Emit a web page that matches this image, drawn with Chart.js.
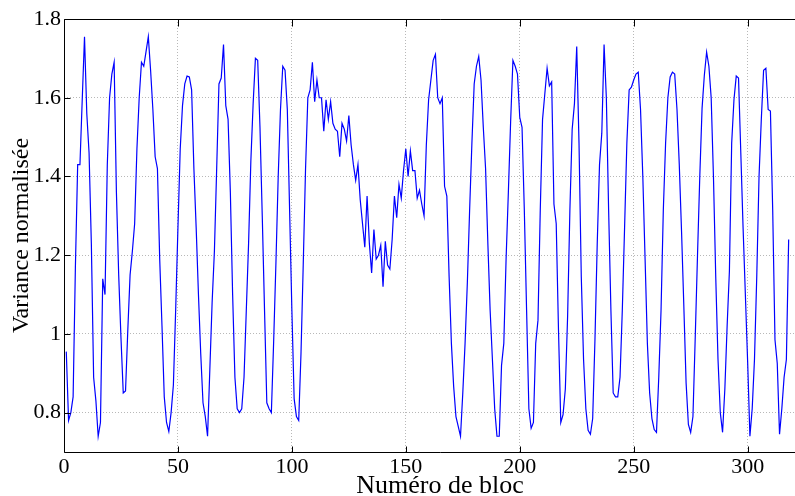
<!DOCTYPE html>
<html>
<head>
<meta charset="utf-8">
<script src="https://cdn.jsdelivr.net/npm/chart.js@4/dist/chart.umd.min.js"></script>
<style>
  html, body { margin: 0; padding: 0; background: #fff; overflow: hidden; }
</style>
</head>
<body>
<canvas id="chart" width="830" height="496"></canvas>
<script>
// variance per block (blocks 1..318)
const variance = [
  0.955, 0.78, 0.80, 0.84, 1.17, 1.43, 1.43, 1.595, 1.755, 1.56,
  1.46, 1.23, 0.89, 0.83, 0.74, 0.775, 1.14, 1.10, 1.43, 1.60,
  1.66, 1.69, 1.36, 1.15, 0.99, 0.85, 0.855, 1.01, 1.15, 1.21,
  1.28, 1.47, 1.60, 1.69, 1.68, 1.717, 1.755, 1.67, 1.57, 1.45,
  1.42, 1.19, 1.02, 0.84, 0.775, 0.752, 0.80, 0.87, 1.06, 1.27,
  1.47, 1.58, 1.635, 1.655, 1.653, 1.62, 1.42, 1.27, 1.10, 0.95,
  0.825, 0.79, 0.74, 0.91, 1.08, 1.21, 1.42, 1.635, 1.65, 1.735,
  1.58, 1.545, 1.36, 1.10, 0.89, 0.81, 0.80, 0.81, 0.89, 1.06,
  1.23, 1.44, 1.585, 1.70, 1.695, 1.525, 1.30, 1.06, 0.825, 0.81,
  0.80, 0.98, 1.18, 1.40, 1.57, 1.68, 1.67, 1.57, 1.315, 1.06,
  0.835, 0.79, 0.78, 0.95, 1.18, 1.42, 1.60, 1.62, 1.69, 1.59,
  1.645, 1.60, 1.60, 1.515, 1.595, 1.545, 1.59, 1.535, 1.52, 1.515,
  1.45, 1.535, 1.52, 1.49, 1.555, 1.48, 1.43, 1.39, 1.43, 1.34,
  1.28, 1.22, 1.35, 1.23, 1.155, 1.265, 1.19, 1.20, 1.225, 1.12,
  1.235, 1.175, 1.165, 1.24, 1.35, 1.295, 1.38, 1.345, 1.415, 1.47,
  1.40, 1.465, 1.415, 1.415, 1.345, 1.365, 1.33, 1.30, 1.48, 1.595,
  1.645, 1.695, 1.71, 1.60, 1.585, 1.60, 1.375, 1.35, 1.145, 0.976,
  0.866, 0.79, 0.765, 0.74, 0.85, 0.976, 1.13, 1.315, 1.485, 1.635,
  1.68, 1.705, 1.645, 1.525, 1.42, 1.23, 1.06, 0.935, 0.81, 0.74,
  0.74, 0.92, 0.976, 1.19, 1.36, 1.54, 1.695, 1.68, 1.66, 1.55,
  1.525, 1.315, 1.06, 0.81, 0.76, 0.775, 0.976, 1.035, 1.315, 1.545,
  1.61, 1.675, 1.63, 1.64, 1.33, 1.28, 1.01, 0.775, 0.795, 0.86,
  1.045, 1.315, 1.52, 1.585, 1.73, 1.485, 1.145, 0.935, 0.81, 0.755,
  0.745, 0.785, 0.985, 1.23, 1.43, 1.51, 1.735, 1.60, 1.315, 1.06,
  0.85, 0.84, 0.84, 0.89, 1.06, 1.27, 1.485, 1.62, 1.627, 1.645,
  1.66, 1.665, 1.57, 1.40, 1.19, 0.976, 0.85, 0.785, 0.757, 0.75,
  0.89, 1.06, 1.315, 1.485, 1.60, 1.653, 1.665, 1.66, 1.57, 1.43,
  1.26, 1.07, 0.875, 0.77, 0.75, 0.79, 0.99, 1.20, 1.40, 1.573,
  1.657, 1.716, 1.68, 1.60, 1.40, 1.145, 0.935, 0.80, 0.75, 0.86,
  1.02, 1.16, 1.485, 1.595, 1.655, 1.65, 1.46, 1.27, 1.10, 0.93,
  0.74, 0.81, 0.935, 1.145, 1.40, 1.545, 1.67, 1.675, 1.57, 1.566,
  1.315, 0.985, 0.925, 0.745, 0.81, 0.89, 0.935, 1.24
];
const blocks = variance.map((v, i) => i + 1);

const xTicks = [0, 50, 100, 150, 200, 250, 300];
const yTicks = [0.8, 1, 1.2, 1.4, 1.6, 1.8];

const serif = "'Liberation Serif', 'Times New Roman', serif";

// box on top and inward ticks, matlab style
const frameTicks = {
  id: 'frameTicks',
  afterDraw(chart) {
    const { ctx, chartArea: a, scales: { x, y } } = chart;
    const l = Math.round(a.left) + 0.5, t = Math.round(a.top) + 0.5, b = Math.round(a.bottom) + 0.5;
    ctx.save();
    ctx.strokeStyle = '#000';
    ctx.lineWidth = 1;
    ctx.beginPath();
    ctx.moveTo(l, t); ctx.lineTo(a.right, t);
    ctx.moveTo(l, t); ctx.lineTo(l, b); ctx.lineTo(a.right, b);
    x.ticks.forEach(tk => {
      const px = Math.round(x.getPixelForValue(tk.value)) + 0.5;
      ctx.moveTo(px, b); ctx.lineTo(px, b - 6);
      ctx.moveTo(px, t); ctx.lineTo(px, t + 7);
    });
    y.ticks.forEach(tk => {
      const py = Math.round(y.getPixelForValue(tk.value)) + 0.5;
      ctx.moveTo(l, py); ctx.lineTo(l + 6, py);
    });
    ctx.stroke();
    ctx.restore();
  }
};

new Chart(document.getElementById('chart'), {
  type: 'line',
  data: {
    labels: blocks,
    datasets: [{
      data: variance,
      borderColor: '#0000ff',
      borderWidth: 1.2,
      pointRadius: 0,
      tension: 0,
      fill: false
    }]
  },
  options: {
    responsive: false,
    animation: false,
    layout: { padding: { left: 0, top: 19, right: 14, bottom: 0 } },
    plugins: { legend: { display: false }, tooltip: { enabled: false } },
    scales: {
      x: {
        type: 'linear',
        min: 0,
        max: 330,
        afterBuildTicks: s => { s.ticks = xTicks.map(v => ({ value: v })); },
        afterFit: s => { s.height = 44; },
        ticks: { color: '#000', font: { family: serif, size: 22 }, padding: 2, maxRotation: 0 },
        grid: {
          drawTicks: false,
          color: c => (c.tick && c.tick.value === 0) ? 'rgba(0,0,0,0)' : '#b8b8b8',
          lineWidth: 1
        },
        border: { display: false, dash: [1, 2] },
        title: {
          display: true,
          text: 'Numéro de bloc',
          color: '#000',
          font: { family: serif, size: 26 },
          padding: { top: 0, bottom: -6 }
        }
      },
      y: {
        min: 0.7,
        max: 1.8,
        afterBuildTicks: s => { s.ticks = yTicks.map(v => ({ value: v })); },
        afterFit: s => { s.width = 64; },
        ticks: {
          color: '#000',
          font: { family: serif, size: 22 },
          padding: 3,
          callback: v => String(v)
        },
        grid: {
          drawTicks: false,
          color: c => (c.tick && c.tick.value === 1.8) ? 'rgba(0,0,0,0)' : '#b8b8b8',
          lineWidth: 1
        },
        border: { display: false, dash: [1, 2] },
        title: {
          display: true,
          text: 'Variance normalisée',
          color: '#000',
          font: { family: serif, size: 24 },
          padding: { top: 7, bottom: 0 }
        }
      }
    }
  },
  plugins: [frameTicks]
});
</script>
</body>
</html>
